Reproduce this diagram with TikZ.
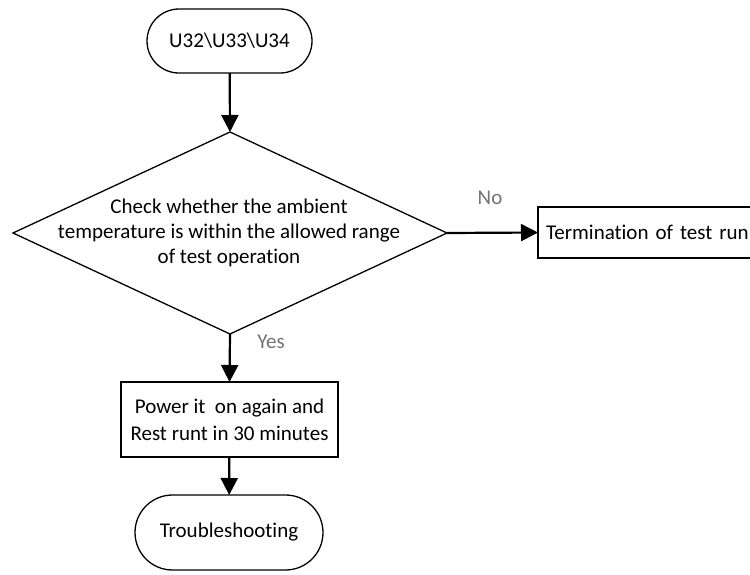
\documentclass[tikz,border=0pt]{standalone}
\usepackage{fontspec}
\setmainfont{Carlito}[Ligatures=NoCommon]
\usetikzlibrary{shapes.geometric,arrows.meta}
\begin{document}
\begin{tikzpicture}[x=1pt,y=-1pt,
  every node/.style={font=\fontsize{21}{25}\selectfont, outer sep=0pt},
  term/.style={draw, line width=1.3pt, rounded corners=#1, inner sep=0pt, align=center},
  proc/.style={draw, line width=1.3pt, inner sep=0pt, align=center},
  dec/.style={draw, diamond, line width=1.3pt, inner sep=0pt},
  conn/.style={line width=2.2pt, -{Triangle[width=17pt,length=17pt]}},
  lbl/.style={text=black!55}
]
\useasboundingbox (0,0) rectangle (750,574);
\node[term=32pt, minimum width=165pt, minimum height=64pt] (start) at (229.5,41) {U32\textbackslash U33\textbackslash U34};
\node[dec, minimum width=434pt, minimum height=202pt] (d) at (230,233) {};
\node[align=center] (dtext) at (229,233) {Check whether the ambient\\temperature is within the allowed range\\of test operation};
\node[proc, minimum width=225pt, minimum height=51pt, anchor=west, text width=215pt, align=left] (stop) at (538,232.5) {\hspace{3pt}Termination of test run};
\node[proc, minimum width=217pt, minimum height=75pt, font=\fontsize{21}{27}\selectfont] (box) at (229.5,419.5) {Power it\ \ on again and\\Rest runt in 30 minutes};
\node[term=37.5pt, minimum width=188pt, minimum height=75pt] (end) at (229,532.5) {Troubleshooting};
\draw[conn] (start) -- (d.north);
\draw[conn] (d.east) -- (stop.west);
\draw[conn] (d.south) -- (box.north);
\draw[conn] (box) -- (end);
\node[lbl] (no) at (490,198) {No};
\node[lbl] (yes) at (271,342) {Yes};
\end{tikzpicture}
\end{document}
